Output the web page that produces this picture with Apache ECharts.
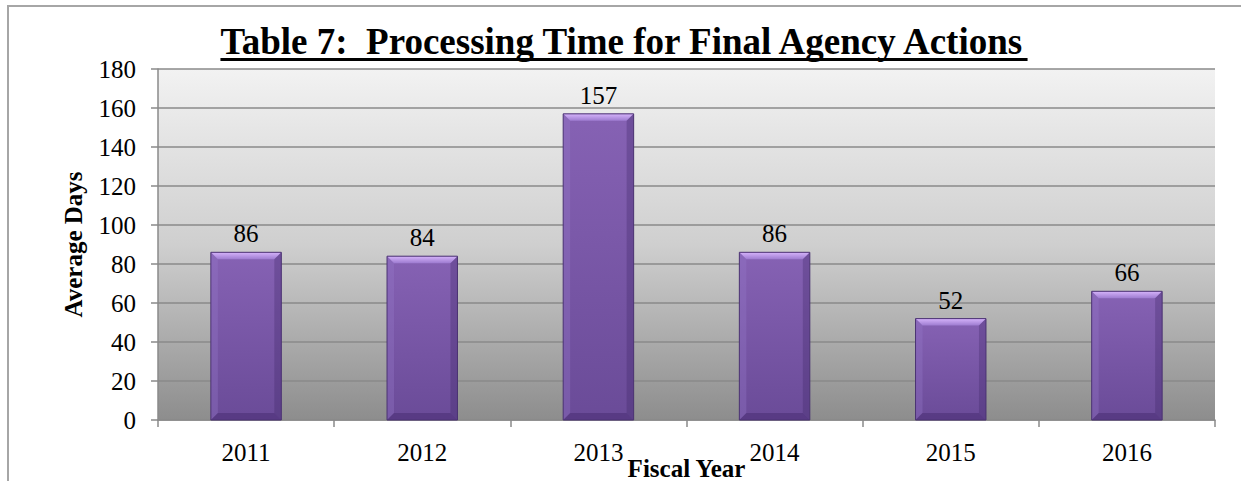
<!DOCTYPE html>
<html>
<head>
<meta charset="utf-8">
<title>Processing Time for Final Agency Actions</title>
<script src="https://cdn.jsdelivr.net/npm/echarts@6/dist/echarts.min.js"></script>
<style>
  html, body { margin: 0; padding: 0; background: #ffffff; overflow: hidden; }
  #frame {
    position: absolute; left: 7px; top: 5px; width: 1234px; height: 476px;
    border-left: 2px solid #a6a6a6; border-top: 2px solid #a6a6a6;
  }
  #chart { position: absolute; left: 0; top: 0; width: 1241px; height: 481px; }
</style>
</head>
<body>
<div id="frame"></div>
<div id="chart"></div>
<script>
// Fiscal years and average processing days
const fiscalYears = ['2011', '2012', '2013', '2014', '2015', '2016'];
const averageDays = [86, 84, 157, 86, 52, 66];
const yTicks = { min: 0, max: 180, interval: 20 };

const titleText = 'Table 7:  Processing Time for Final Agency Actions';
const serif = "'Liberation Serif', 'Times New Roman', serif";
const titleFontSize = 37;

// measure the title so the underline fits it
const ctx = document.createElement('canvas').getContext('2d');
ctx.font = 'bold ' + titleFontSize + 'px ' + serif;
const titleWidth = ctx.measureText(titleText).width;
const titleCenterX = 624;

const chart = echarts.init(document.getElementById('chart'), null, { renderer: 'svg' });

// beveled look drawn on top of each bar
function renderBevel(params, api) {
  const idx = api.value(0);
  const val = api.value(1);
  const top = api.coord([idx, val]);
  const base = api.coord([idx, 0]);
  const w = api.size([1, 0])[0] * 0.4;
  const x0 = top[0] - w / 2, x1 = top[0] + w / 2;
  const y0 = top[1], y1 = base[1];
  const b = 7;
  return {
    type: 'group',
    silent: true,
    children: [
      { type: 'polygon', shape: { points: [[x0, y0], [x1, y0], [x1 - b, y0 + b], [x0 + b, y0 + b]] },
        style: { fill: new echarts.graphic.LinearGradient(0, 0, 0, 1, [
          { offset: 0, color: '#d6b4fb' }, { offset: 1, color: '#9d7bd0' }]) } },
      { type: 'polygon', shape: { points: [[x0, y0], [x0 + b, y0 + b], [x0 + b, y1 - b], [x0, y1]] },
        style: { fill: 'rgba(150,120,200,0.35)' } },
      { type: 'polygon', shape: { points: [[x1, y0], [x1 - b, y0 + b], [x1 - b, y1 - b], [x1, y1]] },
        style: { fill: 'rgba(60,35,100,0.30)' } },
      { type: 'polygon', shape: { points: [[x0, y1], [x1, y1], [x1 - b, y1 - b], [x0 + b, y1 - b]] },
        style: { fill: 'rgba(55,30,95,0.35)' } },
      { type: 'rect', shape: { x: x0, y: y0, width: w, height: y1 - y0 },
        style: { fill: 'none', stroke: '#4b3372', lineWidth: 1 } }
    ]
  };
}

const option = {
  animation: false,
  title: {
    text: titleText,
    left: titleCenterX - titleWidth / 2,
    top: 23,
    padding: 0,
    textStyle: { fontFamily: serif, fontSize: titleFontSize, fontWeight: 'bold', color: '#000000' }
  },
  graphic: [
    { type: 'rect', left: titleCenterX - titleWidth / 2, top: 58,
      shape: { width: titleWidth, height: 3 }, style: { fill: '#000000' } }
  ],
  grid: {
    left: 158, right: 26, top: 69, bottom: 61,
    outerBoundsMode: 'none',
    containLabel: false,
    show: true,
    borderWidth: 0,
    backgroundColor: new echarts.graphic.LinearGradient(0, 0, 0, 1, [
      { offset: 0, color: '#f2f2f2' },
      { offset: 0.5, color: '#cfcfcf' },
      { offset: 1, color: '#8d8d8d' }
    ])
  },
  xAxis: {
    type: 'category',
    data: fiscalYears,
    name: 'Fiscal Year',
    nameLocation: 'middle',
    nameGap: 38,
    nameMoveOverlap: false,
    nameTextStyle: { fontFamily: serif, fontSize: 25, lineHeight: 21, fontWeight: 'bold', color: '#000000' },
    axisLine: { lineStyle: { color: '#8a8a8a', width: 1.5 } },
    axisTick: { show: true, length: 7, lineStyle: { color: '#8a8a8a', width: 1.5 } },
    axisLabel: { fontFamily: serif, fontSize: 25, color: '#000000', margin: 20 }
  },
  yAxis: {
    type: 'value',
    min: yTicks.min, max: yTicks.max, interval: yTicks.interval,
    name: 'Average Days',
    nameLocation: 'middle',
    nameGap: 72,
    nameMoveOverlap: false,
    nameTextStyle: { fontFamily: serif, fontSize: 25, fontWeight: 'bold', color: '#000000' },
    axisLine: { show: true, lineStyle: { color: '#8a8a8a', width: 1.5 } },
    axisTick: { show: true, length: 7, lineStyle: { color: '#8a8a8a', width: 1.5 } },
    axisLabel: { fontFamily: serif, fontSize: 25, color: '#000000', margin: 22 },
    splitLine: { show: true, lineStyle: { color: '#8a8a8a', width: 1.5 } }
  },
  series: [
    {
      type: 'bar',
      data: averageDays,
      barWidth: '40%',
      itemStyle: {
        color: new echarts.graphic.LinearGradient(0, 0, 0, 1, [
          { offset: 0, color: '#8662b4' },
          { offset: 1, color: '#6a4b98' }
        ])
      },
      label: {
        show: true, position: 'top', distance: 6,
        fontFamily: serif, fontSize: 25, color: '#000000'
      }
    },
    {
      type: 'custom',
      renderItem: renderBevel,
      data: averageDays.map((v, i) => [i, v]),
      z: 3,
      silent: true
    }
  ]
};

chart.setOption(option);
</script>
</body>
</html>
